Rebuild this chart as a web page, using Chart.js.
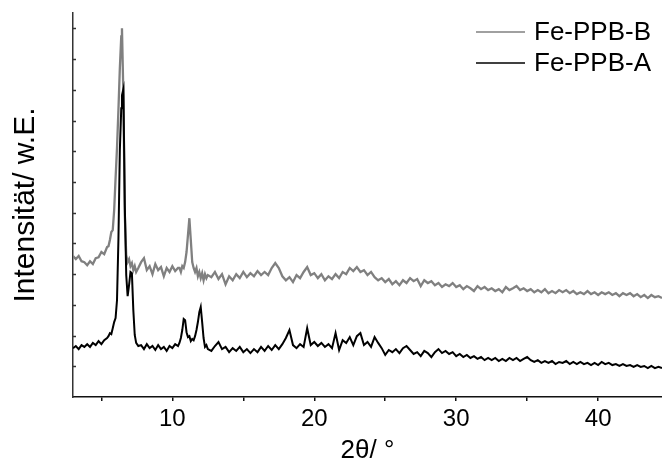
<!DOCTYPE html>
<html>
<head>
<meta charset="utf-8">
<script src="https://cdn.jsdelivr.net/npm/chart.js@4.4.1/dist/chart.umd.min.js"></script>
<style>
  html, body { margin: 0; padding: 0; background: #fff; }
  #wrap { width: 662px; height: 466px; }
</style>
</head>
<body>
<div id="wrap"><canvas id="xrd" width="662" height="466"></canvas></div>
<script>
// XRD Diffraktogramme Fe-PPB-A / Fe-PPB-B (Intensität in willk. Einheiten)

const twoTheta = [
  3.0, 3.2, 3.4, 3.6, 3.8, 4.0, 4.2, 4.4, 4.6, 4.8, 5.0, 5.2, 5.4,
  5.5, 5.6, 5.7, 5.8, 5.9, 6.0, 6.1, 6.2, 6.3, 6.4, 6.45, 6.55, 6.65, 6.75, 6.85, 6.95, 7.05, 7.15, 7.25, 7.35, 7.45, 7.6,
  7.8, 8.0, 8.2, 8.4, 8.6, 8.8, 9.0, 9.2, 9.4, 9.6, 9.8, 10.0, 10.2, 10.4,
  10.5, 10.6, 10.7, 10.8, 10.9, 11.0, 11.1, 11.2, 11.3, 11.4, 11.5, 11.6, 11.7, 11.8, 11.9, 12.0, 12.1, 12.2, 12.3, 12.4, 12.5,
  12.75, 13, 13.25, 13.5, 13.75, 14, 14.25, 14.5,
  14.75, 15, 15.25, 15.5, 15.75, 16, 16.25, 16.5,
  16.75, 17, 17.25, 17.5, 17.75, 18, 18.25, 18.5,
  18.75, 19, 19.25, 19.5, 19.75, 20, 20.25, 20.5,
  20.75, 21, 21.25, 21.5, 21.75, 22, 22.25, 22.5,
  22.75, 23, 23.25, 23.5, 23.75, 24, 24.25, 24.5,
  24.75, 25, 25.25, 25.5, 25.75, 26, 26.25, 26.5,
  26.75, 27, 27.25, 27.5, 27.75, 28, 28.25, 28.5,
  28.75, 29, 29.25, 29.5, 29.75, 30, 30.25, 30.5,
  30.75, 31, 31.25, 31.5, 31.75, 32, 32.25, 32.5,
  32.75, 33, 33.25, 33.5, 33.75, 34, 34.25, 34.5,
  34.75, 35, 35.25, 35.5, 35.75, 36, 36.25, 36.5,
  36.75, 37, 37.25, 37.5, 37.75, 38, 38.25, 38.5,
  38.75, 39, 39.25, 39.5, 39.75, 40, 40.25, 40.5,
  40.75, 41, 41.25, 41.5, 41.75, 42, 42.25, 42.5,
  42.75, 43, 43.25, 43.5, 43.75, 44, 44.25, 44.5
];

// Fe-PPB-B (grau, oben versetzt)
const fePPB_B = [
  4.59, 4.49, 4.59, 4.42, 4.39, 4.29, 4.42, 4.33, 4.52, 4.55, 4.72, 4.65, 4.88,
  4.91, 5.11, 5.37, 5.43, 6.08, 7.12, 8.10, 9.33, 10.70, 11.74, 12.0, 9.82, 5.92, 4.62, 4.39, 4.49, 4.26, 4.36, 4.13, 4.26, 4.07, 4.20,
  4.39, 4.52, 4.13, 4.26, 4.00, 4.33, 4.13, 4.23, 3.93, 4.20, 4.07, 4.26, 4.10, 4.20,
  4.20, 4.07, 4.26, 4.20, 4.39, 4.72, 5.27, 5.82, 5.11, 4.39, 4.20, 4.07, 4.20, 3.93, 4.07, 3.87, 4.03, 3.80, 4.00, 3.87, 3.97,
  3.90, 4.07, 3.84, 4.00, 3.67, 3.93, 3.80, 4.00,
  3.87, 4.07, 3.90, 4.03, 3.93, 4.10, 3.97, 4.07,
  3.97, 4.20, 4.36, 4.20, 3.93, 3.80, 3.90, 3.74,
  3.97, 3.87, 4.07, 4.23, 3.97, 4.03, 3.87, 4.00,
  3.80, 3.93, 3.84, 4.00, 3.87, 4.07, 4.00, 4.20,
  4.10, 4.23, 4.07, 4.13, 3.97, 4.07, 3.90, 3.80,
  3.87, 3.74, 3.84, 3.67, 3.77, 3.64, 3.80, 3.71,
  3.87, 3.77, 3.84, 3.61, 3.80, 3.71, 3.77, 3.64,
  3.71, 3.58, 3.67, 3.61, 3.71, 3.58, 3.64, 3.51,
  3.61, 3.54, 3.45, 3.61, 3.51, 3.58, 3.48, 3.54,
  3.45, 3.51, 3.41, 3.58, 3.48, 3.54, 3.61, 3.48,
  3.54, 3.45, 3.51, 3.41, 3.48, 3.41, 3.51, 3.38,
  3.45, 3.38, 3.48, 3.41, 3.48, 3.38, 3.45, 3.35,
  3.41, 3.35, 3.45, 3.35, 3.41, 3.32, 3.41, 3.35,
  3.41, 3.32, 3.38, 3.28, 3.38, 3.32, 3.38, 3.28,
  3.35, 3.25, 3.32, 3.22, 3.32, 3.25, 3.28, 3.22
];

// Fe-PPB-A (schwarz)
const fePPB_A = [
  1.59, 1.66, 1.56, 1.69, 1.63, 1.72, 1.63, 1.76, 1.69, 1.82, 1.72, 1.85, 1.92,
  1.98, 2.08, 2.05, 2.24, 2.44, 2.57, 3.15, 5.11, 8.03, 9.40, 9.82, 10.02, 6.24, 3.97, 3.28, 3.64, 4.07, 4.03, 2.83, 2.02, 1.76, 1.66,
  1.69, 1.56, 1.72, 1.59, 1.66, 1.53, 1.69, 1.56, 1.63, 1.50, 1.66, 1.59, 1.72, 1.66,
  1.76, 1.92, 2.18, 2.54, 2.50, 2.11, 1.95, 1.98, 1.82, 1.89, 1.85, 1.98, 2.18, 2.44, 2.76, 2.93, 2.44, 1.92, 1.63, 1.69, 1.56,
  1.50, 1.66, 1.79, 1.56, 1.63, 1.46, 1.59, 1.50,
  1.63, 1.46, 1.56, 1.43, 1.56, 1.46, 1.63, 1.50,
  1.66, 1.53, 1.69, 1.56, 1.72, 1.92, 2.18, 1.69,
  1.59, 1.72, 1.63, 2.24, 1.69, 1.79, 1.66, 1.76,
  1.63, 1.72, 1.59, 2.08, 1.53, 1.85, 1.76, 1.95,
  1.69, 1.98, 2.08, 1.69, 1.79, 1.63, 1.95, 1.76,
  1.59, 1.37, 1.53, 1.46, 1.56, 1.43, 1.59, 1.66,
  1.53, 1.40, 1.46, 1.33, 1.50, 1.43, 1.30, 1.46,
  1.56, 1.43, 1.50, 1.40, 1.46, 1.33, 1.40, 1.30,
  1.37, 1.27, 1.33, 1.24, 1.30, 1.20, 1.27, 1.20,
  1.27, 1.17, 1.24, 1.17, 1.27, 1.20, 1.27, 1.17,
  1.24, 1.30, 1.20, 1.14, 1.20, 1.11, 1.17, 1.11,
  1.17, 1.07, 1.14, 1.11, 1.17, 1.07, 1.14, 1.07,
  1.14, 1.07, 1.11, 1.04, 1.11, 1.04, 1.14, 1.07,
  1.11, 1.04, 1.07, 1.01, 1.07, 1.01, 1.04, 0.98,
  1.04, 0.98, 1.01, 0.94, 1.01, 0.94, 0.98, 0.94
];

const seriesNames = ['Fe-PPB-B', 'Fe-PPB-A'];
const xTickLabels = [10, 20, 30, 40];
const yTickValues = [1, 2, 3, 4, 5, 6, 7, 8, 9, 10, 11, 12];

const FONT = '"Liberation Sans", Arial, sans-serif';
Chart.defaults.font.family = FONT;
Chart.defaults.color = '#000';

const toPoints = vals => twoTheta.map((t, i) => ({ x: t, y: vals[i] }));

// kleine Striche nach innen an der y-Achse
const innerTicks = {
  id: 'innerTicks',
  afterDraw(chart) {
    const y = chart.scales.y;
    const left = chart.chartArea.left;
    const ctx = chart.ctx;
    ctx.save();
    ctx.strokeStyle = '#333';
    ctx.lineWidth = 1.5;
    yTickValues.forEach(v => {
      const py = Math.round(y.getPixelForValue(v)) + 0.5;
      ctx.beginPath();
      ctx.moveTo(left, py);
      ctx.lineTo(left + 3, py);
      ctx.stroke();
    });
    ctx.restore();
  }
};

// Legende oben rechts
const cornerLegend = {
  id: 'cornerLegend',
  afterDraw(chart) {
    const ctx = chart.ctx;
    ctx.save();
    ctx.font = '26px ' + FONT;
    ctx.textBaseline = 'middle';
    chart.data.datasets.forEach((ds, i) => {
      const yy = 32 + i * 31;
      ctx.strokeStyle = ds.borderColor;
      ctx.lineWidth = 1.5;
      ctx.beginPath();
      ctx.moveTo(476, yy);
      ctx.lineTo(525, yy);
      ctx.stroke();
      ctx.fillStyle = '#000';
      ctx.fillText(ds.label, 534, yy + 1);
    });
    ctx.restore();
  }
};

new Chart(document.getElementById('xrd'), {
  type: 'line',
  data: {
    datasets: [
      { label: seriesNames[0], data: toPoints(fePPB_B), borderColor: '#808080', borderWidth: 2.3, pointRadius: 0, order: 2 },
      { label: seriesNames[1], data: toPoints(fePPB_A), borderColor: '#000000', borderWidth: 2, pointRadius: 0, order: 1 }
    ]
  },
  options: {
    responsive: false,
    animation: false,
    events: [],
    layout: { padding: { top: 13, right: 0, left: 0, bottom: 0 } },
    plugins: { legend: { display: false }, tooltip: { enabled: false } },
    scales: {
      x: {
        type: 'linear',
        min: 3,
        max: 44.5,
        afterFit: s => { s.height = 69; },
        border: { display: true, color: '#111', width: 1.5 },
        grid: { display: true, drawOnChartArea: false, drawTicks: true, tickLength: 4, color: '#111', lineWidth: 1.5 },
        ticks: {
          stepSize: 5,
          includeBounds: false,
          autoSkip: false,
          maxRotation: 0,
          padding: 4,
          font: { size: 24 },
          callback: v => (xTickLabels.includes(v) ? String(v) : '')
        },
        title: { display: true, text: '2θ/ °', font: { size: 26 }, padding: { top: 0, bottom: 0 } }
      },
      y: {
        min: 0,
        max: 12.5,
        afterFit: s => { s.width = 73; },
        border: { display: true, color: '#333', width: 1.5 },
        grid: { display: false },
        ticks: { display: false, stepSize: 1 },
        title: { display: true, text: 'Intensität/ w.E.', font: { size: 30 }, padding: { top: 8, bottom: 0 } }
      }
    }
  },
  plugins: [innerTicks, cornerLegend]
});
</script>
</body>
</html>
